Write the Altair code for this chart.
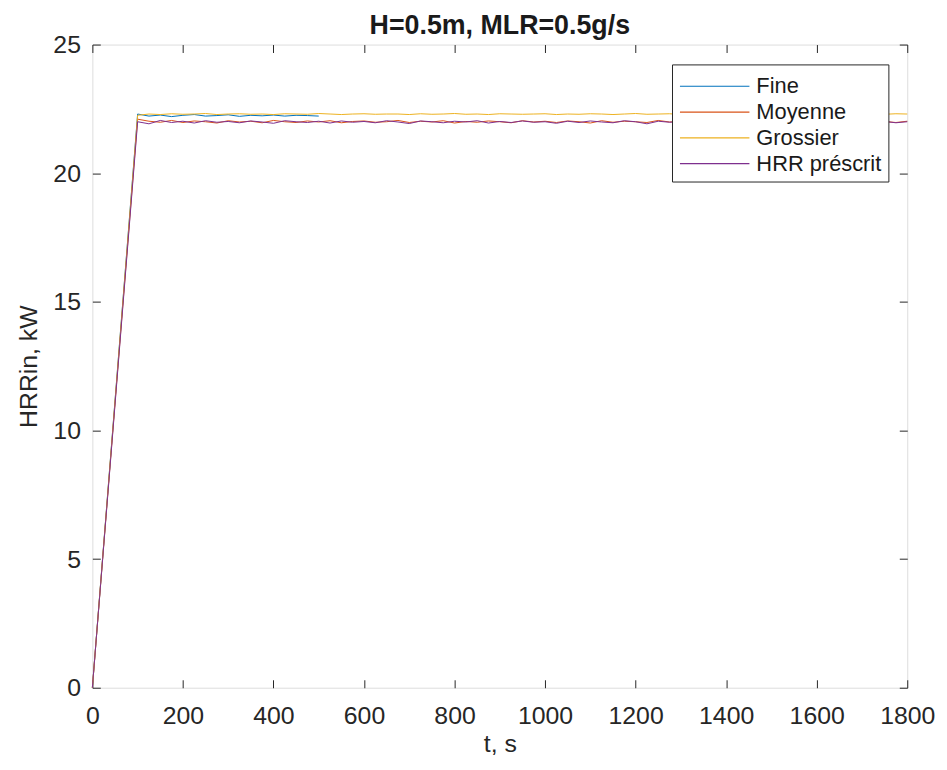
import altair as alt
import pandas as pd

chart_title = "H=0.5m, MLR=0.5g/s"
x_title = "t, s"
y_title = "HRRin, kW"
series_names = ["Fine", "Moyenne", "Grossier", "HRR préscrit"]
series_colors = ["#0072BD", "#D95319", "#EDB120", "#7E2F8E"]
x_ticks = [0, 200, 400, 600, 800, 1000, 1200, 1400, 1600, 1800]
y_ticks = [0, 5, 10, 15, 20, 25]

# time grids (s)
t_main = [0] + list(range(100, 1801, 25))
t_fine = [0] + list(range(100, 501, 25))

fine = [0.0, 22.30, 22.22, 22.26, 22.20, 22.25, 22.28, 22.22, 22.24, 22.27,
        22.21, 22.25, 22.23, 22.26, 22.22, 22.25, 22.24, 22.22]

moyenne = [0.0, 22.10, 22.02, 21.98, 22.05, 21.97, 22.03, 22.00, 21.95, 22.04,
           21.99, 22.02, 21.96, 22.05, 22.00, 21.97, 22.03, 21.99, 22.04, 21.96,
           22.01, 22.03, 21.98, 22.00, 22.05, 21.97, 22.02, 21.99, 22.04, 21.95,
           22.01, 21.98, 22.03, 22.00, 21.96, 22.04, 21.99, 22.02, 21.97, 22.03,
           22.00, 21.95, 22.04, 21.98, 22.02, 22.00, 21.97, 22.05, 21.99, 22.01,
           21.96, 22.03, 22.00, 21.98, 22.04, 21.97, 22.01, 21.99, 22.03, 21.98,
           22.02, 21.96, 22.04, 22.00, 21.98, 22.03, 21.99, 22.01, 21.97, 22.02]

grossier = [0.0, 22.25, 22.30, 22.28, 22.31, 22.29, 22.30, 22.32, 22.28, 22.30,
            22.31, 22.29, 22.30, 22.28, 22.31, 22.30, 22.29, 22.32, 22.30, 22.28,
            22.30, 22.31, 22.29, 22.30, 22.30, 22.28, 22.31, 22.29, 22.30, 22.32,
            22.29, 22.30, 22.28, 22.31, 22.30, 22.29, 22.30, 22.31, 22.28, 22.30,
            22.29, 22.31, 22.30, 22.28, 22.30, 22.32, 22.29, 22.30, 22.31, 22.28,
            22.30, 22.29, 22.31, 22.30, 22.28, 22.30, 22.31, 22.29, 22.30, 22.28,
            22.31, 22.30, 22.29, 22.30, 22.31, 22.28, 22.30, 22.29, 22.31, 22.30]

hrr_prescrit = [0.0, 22.00, 21.92, 22.05, 21.97, 22.02, 21.95, 22.04, 21.98, 22.01,
                21.96, 22.03, 21.99, 21.94, 22.04, 22.00, 21.97, 22.02, 21.95, 22.03,
                21.98, 22.01, 21.96, 22.04, 21.99, 21.93, 22.03, 22.00, 21.96, 22.02,
                21.99, 22.04, 21.95, 22.01, 21.97, 22.03, 21.98, 22.00, 21.94, 22.02,
                21.97, 22.03, 21.99, 21.96, 22.04, 22.00, 21.92, 22.02, 21.98, 22.01,
                21.95, 22.03, 21.99, 22.01, 21.96, 22.04, 21.98, 22.00, 21.97, 22.02,
                21.99, 21.95, 22.03, 22.00, 21.97, 22.02, 21.98, 22.01, 21.96, 22.00]

rows = []
for i, (name, ts, vs) in enumerate([("Fine", t_fine, fine),
                                     ("Moyenne", t_main, moyenne),
                                     ("Grossier", t_main, grossier),
                                     ("HRR préscrit", t_main, hrr_prescrit)]):
    for t, v in zip(ts, vs):
        rows.append({"t": t, "hrr": v, "series": name, "k": i})
df = pd.DataFrame(rows)

AX = "#262626"
FONT = "Liberation Sans"

xscale = alt.Scale(domain=[0, 1800], nice=False)
yscale = alt.Scale(domain=[0, 25], nice=False)

common_axis = dict(domain=False, grid=False, ticks=True, tickSize=8, offset=-8,
                   tickColor=AX, tickWidth=1, labelColor=AX, labelFont=FONT,
                   labelFontSize=25, titleFont=FONT, titleFontSize=25,
                   titleFontWeight="normal", titleColor=AX, labelFlush=False,
                   labelOverlap=False, format="d")

lines = alt.Chart(df).mark_line(strokeWidth=1).encode(
    x=alt.X("t:Q", scale=xscale,
            axis=alt.Axis(values=x_ticks, title=x_title, orient="bottom",
                          labelPadding=16, titlePadding=3, **common_axis)),
    y=alt.Y("hrr:Q", scale=yscale,
            axis=alt.Axis(values=y_ticks, title=y_title, orient="left",
                          labelPadding=12, titlePadding=11, **common_axis)),
    color=alt.Color("series:N",
                    scale=alt.Scale(domain=series_names, range=series_colors),
                    legend=alt.Legend(orient="none", legendX=584, legendY=20,
                                      title=None, symbolType="M-1,0L4,0",
                                      symbolSize=784, symbolStrokeWidth=1.2,
                                      labelOffset=48, labelFontSize=22,
                                      labelFont=FONT, labelColor="#1a1a1a",
                                      padding=7, rowPadding=0,
                                      strokeColor=AX, fillColor="white")),
    detail="k:N",
)

frame = alt.Chart(df).mark_line(strokeOpacity=0).encode(
    x=alt.X("t:Q", scale=xscale,
            axis=alt.Axis(values=x_ticks, title=None, orient="top", labels=False,
                          **common_axis)),
    y=alt.Y("hrr:Q", scale=yscale,
            axis=alt.Axis(values=y_ticks, title=None, orient="right", labels=False,
                          **common_axis)),
    detail="series:N",
)

chart = alt.layer(lines, frame).resolve_axis(
    x="independent", y="independent"
).properties(
    width=821, height=648,
    title=alt.TitleParams(chart_title, font=FONT, fontSize=27, fontWeight="bold",
                          color="#1a1a1a", anchor="middle", offset=-7),
    autosize=alt.AutoSizeParams(type="none"),
    padding={"left": 85, "top": 34, "right": 32, "bottom": 72},
).configure_view(stroke=AX, strokeWidth=1).configure(background="white")

chart.save("out.html", embed_options={"renderer": "svg", "actions": False})
